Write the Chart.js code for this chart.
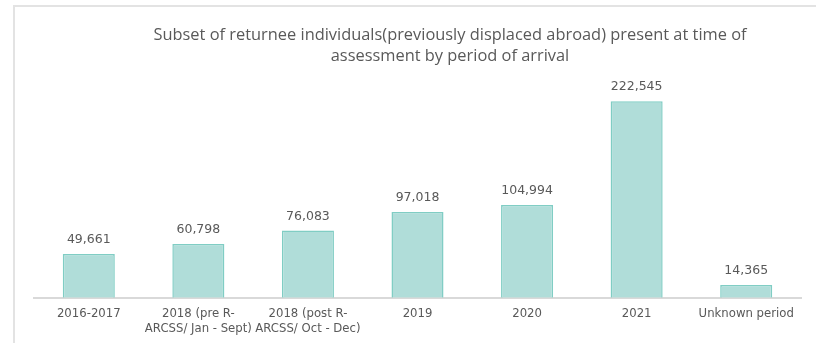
<!DOCTYPE html>
<html>
<head>
<meta charset="utf-8">
<script src="https://cdn.jsdelivr.net/npm/chart.js@4.4.1/dist/chart.umd.min.js"></script>
<style>
  html, body { margin: 0; padding: 0; background: #fff; }
  #wrap { position: relative; width: 816px; height: 343px; }
  /* light frame along the top and left edge */
  #frame { position: absolute; left: 13px; top: 5px; right: 0; bottom: 0;
           border-left: 2px solid #e3e3e3; border-top: 2px solid #e3e3e3; pointer-events: none; }
  canvas { position: absolute; left: 0; top: 0; }
</style>
</head>
<body>
<div id="wrap">
  <canvas id="arrivalChart" width="816" height="343"></canvas>
  <div id="frame"></div>
</div>
<script>
// --- Data ---
const periods = [
  "2016-2017",
  ["2018 (pre R-", "ARCSS/ Jan - Sept)"],
  ["2018 (post R-", "ARCSS/ Oct - Dec)"],
  "2019",
  "2020",
  "2021",
  "Unknown period"
];
const returnees = [49661, 60798, 76083, 97018, 104994, 222545, 14365];
const titleLines = [
  "Subset of returnee individuals(previously displaced abroad) present at time of",
  "assessment by period of arrival"
];

const TEXT = "#595959";

// two-line heading, centred a little right of the plot middle
const heading = {
  id: "heading",
  afterDraw(chart) {
    const c = chart.ctx;
    c.save();
    c.font = "16.4px 'Open Sans'";
    c.fillStyle = TEXT;
    c.textAlign = "center";
    c.textBaseline = "middle";
    titleLines.forEach((line, i) => c.fillText(line, 450, 35 + i * 21));
    c.restore();
  }
};

// value labels above each bar
const barLabels = {
  id: "barLabels",
  afterDatasetsDraw(chart) {
    const c = chart.ctx;
    const meta = chart.getDatasetMeta(0);
    c.save();
    c.font = "12.5px 'DejaVu Sans'";
    c.fillStyle = TEXT;
    c.textAlign = "center";
    c.textBaseline = "middle";
    meta.data.forEach((bar, i) => {
      c.fillText(returnees[i].toLocaleString("en-US"), bar.x, bar.y - 14);
    });
    c.restore();
  }
};

const ctx = document.getElementById("arrivalChart").getContext("2d");
new Chart(ctx, {
  type: "bar",
  data: {
    labels: periods,
    datasets: [{
      data: returnees,
      backgroundColor: "#b0ddd9",
      borderColor: "#80cdc4",
      borderWidth: 1.5,
      barPercentage: 0.475,
      categoryPercentage: 1
    }]
  },
  options: {
    responsive: false,
    animation: false,
    layout: { padding: { left: 34, right: 15, top: 77, bottom: 6 } },
    scales: {
      y: { display: false, min: 0, max: 250000 },
      x: {
        grid: { display: false },
        border: { color: "#d9d9d9", width: 2 },
        ticks: {
          color: TEXT,
          font: { family: "DejaVu Sans", size: 11.7, lineHeight: 1.25 },
          padding: 1,
          maxRotation: 0,
          autoSkip: false
        }
      }
    },
    plugins: {
      legend: { display: false },
      tooltip: { enabled: false },
      title: { display: false }
    }
  },
  plugins: [barLabels, heading]
});
</script>
</body>
</html>
